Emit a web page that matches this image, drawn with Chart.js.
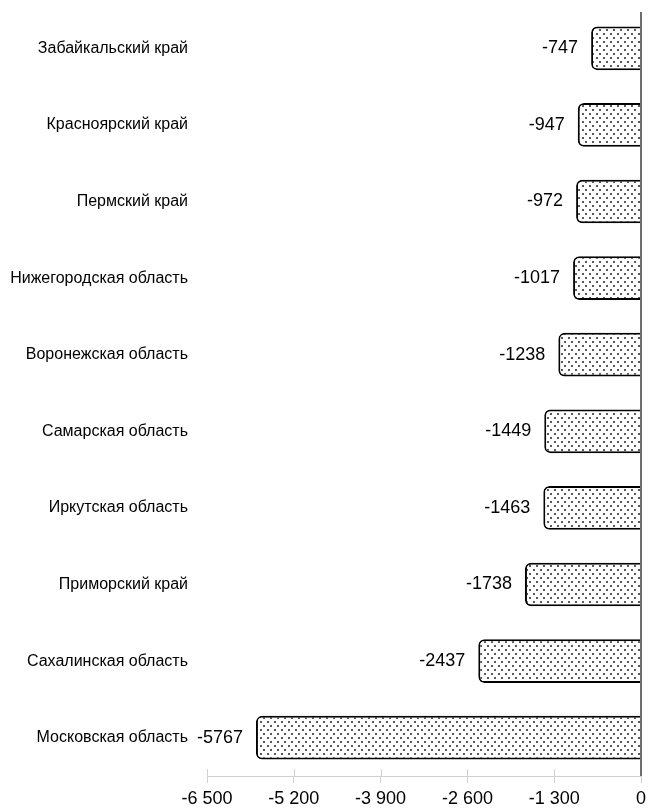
<!DOCTYPE html>
<html><head><meta charset="utf-8">
<script src="https://cdn.jsdelivr.net/npm/chart.js@4/dist/chart.umd.min.js"></script>
<style>html,body{margin:0;padding:0;background:#fff}#w{width:648px;height:809px}</style>
</head><body><div id="w"><canvas id="c"></canvas></div>
<script>
const categories = ["Забайкальский край","Красноярский край","Пермский край","Нижегородская область","Воронежская область","Самарская область","Иркутская область","Приморский край","Сахалинская область","Московская область"];
const values = [-747,-947,-972,-1017,-1238,-1449,-1463,-1738,-2437,-5767];
const xTicks = [-6500,-5200,-3900,-2600,-1300,0];

function makePattern(){
  const p = document.createElement('canvas'); p.width=7; p.height=8;
  const g = p.getContext('2d');
  g.fillStyle='#fff'; g.fillRect(0,0,7,8);
  g.fillStyle='#5a5a5a';
  g.fillRect(1,1,2,2); g.fillRect(4,5,2,2);
  return document.getElementById('c').getContext('2d').createPattern(p,'repeat');
}

const extras = {
  id:'extras',
  afterDatasetsDraw(chart){
    const ctx=chart.ctx, xs=chart.scales.x, a=chart.chartArea;
    ctx.save();
    ctx.strokeStyle='#d0d0d0'; ctx.lineWidth=1;
    xTicks.forEach(v=>{const px=Math.round(xs.getPixelForValue(v))+0.5;ctx.beginPath();ctx.moveTo(px,a.bottom-7);ctx.lineTo(px,a.bottom);ctx.stroke();});
    const z=xs.getPixelForValue(0);
    ctx.strokeStyle='#6e6e6e'; ctx.lineWidth=2;
    ctx.beginPath();ctx.moveTo(z,a.top+2);ctx.lineTo(z,a.bottom);ctx.stroke();
    const meta=chart.getDatasetMeta(0);
    ctx.fillStyle='#000'; ctx.font='18px "Liberation Sans", Arial, sans-serif';
    ctx.textAlign='right'; ctx.textBaseline='middle';
    meta.data.forEach((el,i)=>{ctx.fillText(String(values[i]), el.x-13, el.y);});
    ctx.restore();
  }
};

new Chart(document.getElementById('c'),{
  type:'bar',
  data:{labels:categories,datasets:[{data:values,backgroundColor:makePattern(),borderColor:'#000',borderWidth:2,borderRadius:6,barPercentage:0.57,categoryPercentage:1}]},
  options:{
    indexAxis:'y',responsive:true,maintainAspectRatio:false,animation:false,
    layout:{padding:{top:10,right:0,left:0,bottom:0}},
    plugins:{legend:{display:false},tooltip:{enabled:false}},
    scales:{
      x:{type:'linear',min:-6500,max:0,
        afterBuildTicks(s){s.ticks=xTicks.map(v=>({value:v}));},
        afterFit(s){s.height=33;s.paddingRight=7;s.paddingLeft=0;},
        border:{display:true,color:'#d0d0d0',width:1},
        grid:{display:true,drawOnChartArea:false,drawTicks:true,tickLength:7,color:'#d0d0d0'},
        ticks:{padding:5,color:'#000',font:{family:'"Liberation Sans", Arial, sans-serif',size:18},maxRotation:0,
          callback(v){if(v===0)return '0';const s=Math.abs(v).toString().replace(/\B(?=(\d{3})+(?!\d))/g,' ');return '-'+s;}}
      },
      y:{type:'category',
        afterFit(s){s.width=207;s.paddingTop=0;s.paddingBottom=0;},
        border:{display:false},grid:{display:false,drawTicks:false},
        ticks:{padding:19,color:'#000',font:{family:'"Liberation Sans", Arial, sans-serif',size:16}}
      }
    }
  },
  plugins:[extras]
});
</script></body></html>
